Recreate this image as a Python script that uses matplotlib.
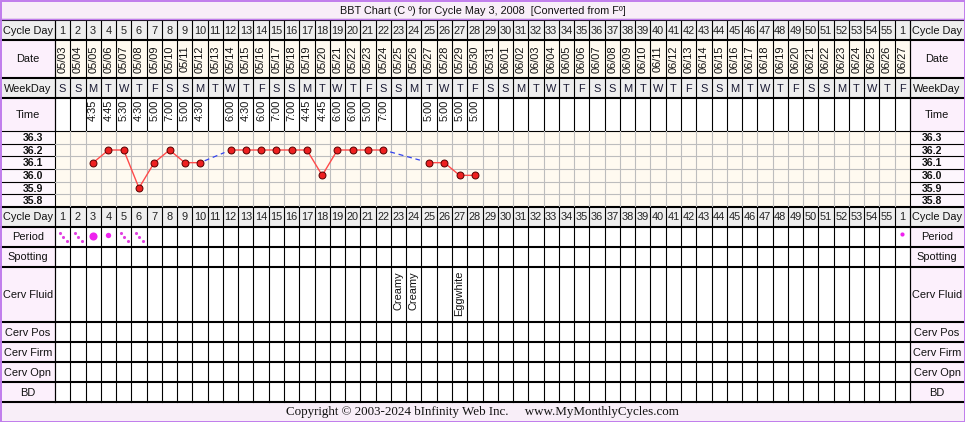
import matplotlib
matplotlib.use("Agg")
import matplotlib.pyplot as plt
import pandas as pd
from matplotlib.patches import Rectangle

# ---- chart data ----
dates = pd.date_range("2008-05-03", "2008-06-27")
cycle_days = [str(d) for d in range(1, 56)] + ["1"]
temp_days = [3, 4, 5, 6, 7, 8, 9, 10, 12, 13, 14, 15, 16, 17, 18, 19, 20, 21, 22, 25, 26, 27, 28]
temps = [36.1, 36.2, 36.2, 35.9, 36.1, 36.2, 36.1, 36.1,
         36.2, 36.2, 36.2, 36.2, 36.2, 36.2, 36.0, 36.2, 36.2, 36.2, 36.2,
         36.1, 36.1, 36.0, 36.0]
times = ["4:35", "4:45", "5:30", "4:30", "5:00", "7:00", "5:00", "4:30",
         "6:00", "4:30", "6:00", "7:00", "7:00", "4:45", "4:45", "6:00", "6:00", "5:00", "7:00",
         "5:00", "5:00", "5:00", "5:00"]
temp_labels = [36.3, 36.2, 36.1, 36.0, 35.9, 35.8]
period_days = [1, 2, 3, 4, 5, 6, 56]
period_flow = ["spot", "spot", "heavy", "medium", "spot", "spot", "light"]
fluid_days = [23, 24, 27]
fluid = ["Creamy", "Creamy", "Eggwhite"]
title = "BBT Chart (C \u00ba) for Cycle May 3, 2008  [Converted from F\u00ba]"
footer = "Copyright \u00a9 2003-2024 bInfinity Web Inc.     www.MyMonthlyCycles.com"

# ---- layout (pixels) ----
W, H = 965, 422
X0, X1 = 55, 910          # day columns area
NCOL = len(dates)
CW = (X1 - X0) / NCOL
rows = {
    "cd1": (20, 40), "date": (40, 78), "wd": (78, 98), "time": (98, 131),
    "temp": (131, 207), "cd2": (207, 227), "Period": (227, 247),
    "Spotting": (247, 267), "Cerv Fluid": (267, 322), "Cerv Pos": (322, 342),
    "Cerv Firm": (342, 362), "Cerv Opn": (362, 382), "BD": (382, 402),
}
FONT = "Liberation Sans"
FS = 7.9
PINK = "#fcf0fc"
GRAY = "#eeeeee"
CREAM = "#fffaf0"
PURPLE = "#c07cec"


def px(xp):
    # pixel x -> column units
    return 0.5 + (xp - X0) / CW


fig = plt.figure(figsize=(W / 100, H / 100), dpi=100)
ax = fig.add_axes([0, 0, 1, 1])
ax.set_xlim(px(0), px(W))
ax.set_ylim(H, 0)
ax.axis("off")

# backgrounds
ax.add_patch(Rectangle((px(0), 0), px(W) - px(0), 20, color="#f8eef8", lw=0))
ax.add_patch(Rectangle((px(0), 402), px(W) - px(0), 20, color="#f8eef8", lw=0))
for key, (y0, y1) in rows.items():
    if key in ("cd1", "wd", "cd2"):
        day_bg, lab_bg = GRAY, GRAY
    elif key == "date":
        day_bg, lab_bg = CREAM, PINK
    elif key == "temp":
        day_bg, lab_bg = CREAM, "#fdf6fd"
    else:
        day_bg, lab_bg = "white", PINK
    ax.add_patch(Rectangle((0.5, y0), NCOL, y1 - y0, color=day_bg, lw=0))
    ax.add_patch(Rectangle((px(1), y0), px(X0) - px(1), y1 - y0, color=lab_bg, lw=0))
    ax.add_patch(Rectangle((px(X1), y0), px(W - 1) - px(X1), y1 - y0, color=lab_bg, lw=0))

# row labels on both sides
side_labels = {"cd1": "Cycle Day", "date": "Date", "wd": "WeekDay", "time": "Time",
               "cd2": "Cycle Day"}
for key, (y0, y1) in rows.items():
    if key == "temp":
        continue
    lab = side_labels.get(key, key)
    for xc in ((1 + X0) / 2, (X1 + W - 1) / 2):
        ax.text(px(xc), (y0 + y1) / 2 + 0.5, lab, ha="center", va="center",
                fontsize=FS, family=FONT, color="#111111")

# temperature labels on both sides
t0, t1 = rows["temp"]
rh = (t1 - t0) / len(temp_labels)
for i, t in enumerate(temp_labels):
    yc = t0 + (i + 0.5) * rh
    for xc in ((1 + X0) / 2 + 5, (X1 + W - 1) / 2 - 5):
        ax.text(px(xc), yc + 0.5, f"{t:.1f}", ha="center", va="center",
                fontsize=FS - 0.3, family=FONT, fontweight="bold", color="#111111")
    if i > 0:
        ax.plot([px(1), px(X0)], [t0 + i * rh] * 2, color="black", lw=0.8)
        ax.plot([px(X1), px(W - 1)], [t0 + i * rh] * 2, color="black", lw=0.8)

# day cells
for i, (d, cd) in enumerate(zip(dates, cycle_days), start=1):
    for key in ("cd1", "cd2"):
        y0, y1 = rows[key]
        ax.text(i, (y0 + y1) / 2 + 0.5, cd, ha="center", va="center",
                fontsize=FS, family=FONT, color="#222222")
    y0, y1 = rows["date"]
    ax.text(i, (y0 + y1) / 2, d.strftime("%m/%d"), ha="center", va="center",
            rotation=90, fontsize=FS, family=FONT, color="#111111")
    y0, y1 = rows["wd"]
    ax.text(i, (y0 + y1) / 2 + 0.5, "MTWTFSS"[d.weekday()], ha="center", va="center",
            fontsize=FS, family=FONT, color="#1a1a33")

y0, y1 = rows["time"]
for d, tm in zip(temp_days, times):
    ax.text(d, y0 + 2, tm, ha="center", va="top", rotation=90,
            fontsize=FS, family=FONT, color="#111111")

y0, y1 = rows["Cerv Fluid"]
for d, f in zip(fluid_days, fluid):
    ax.text(d, y0 + 4, f, ha="center", va="top", rotation=90,
            fontsize=FS, family=FONT, color="#111111")

# period markers
y0, y1 = rows["Period"]
yc = (y0 + y1) / 2
MAG = "#ee22ee"
for d, fl in zip(period_days, period_flow):
    if fl == "spot":
        ax.scatter([d - 3 / CW, d, d + 4 / CW], [yc - 4, yc, yc + 4], s=5,
                   color="#e040e0", lw=0, zorder=5)
    elif fl == "heavy":
        ax.scatter([d], [yc - 1], s=34, color=MAG, lw=0, zorder=5)
    elif fl == "medium":
        ax.scatter([d], [yc - 2.5], s=15, color=MAG, lw=0, zorder=5)
    else:
        ax.scatter([d], [yc - 3], s=9, color=MAG, lw=0, zorder=5)

# grid lines of the table
for key, (y0, y1) in rows.items():
    if key == "temp":
        continue
    for i in range(NCOL + 1):
        ax.plot([0.5 + i, 0.5 + i], [y0, y1], color="black", lw=0.8, zorder=3)
ax.plot([px(X0)] * 2, [20, 402], color="black", lw=0.8, zorder=3)
ax.plot([px(X1)] * 2, [20, 402], color="black", lw=0.8, zorder=3)
for yl in (20, 40, 78, 98, 207, 227, 247, 267, 322, 342, 362, 382, 402):
    ax.plot([px(1), px(W - 1)], [yl, yl], color="black", lw=1.5, zorder=4)
ax.plot([px(1), px(W - 1)], [131, 131], color="black", lw=0.8, zorder=4)

# outer purple frame
ax.add_patch(Rectangle((px(0.5), 0.5), px(W - 0.5) - px(0.5), H - 1, fill=False,
                       ec=PURPLE, lw=1.4, zorder=6))
ax.plot([px(1), px(W - 1)], [19.3, 19.3], color=PURPLE, lw=1.0, zorder=5)

ax.text(px(W / 2), 10.5, title, ha="center", va="center", fontsize=FS - 0.1,
        family=FONT, color="#111111")
ax.text(px(W / 2), 412, footer, ha="center", va="center", fontsize=9.4,
        family="Liberation Serif", color="#111111")

# ---- temperature chart ----
tax = fig.add_axes([X0 / W, (H - t1) / H, (X1 - X0) / W, (t1 - t0) / H])
tax.set_xlim(0.5, NCOL + 0.5)
tax.set_ylim(35.75, 36.35)
tax.set_facecolor("none")
for i in range(1, NCOL):
    tax.axvline(0.5 + i, color="#bdbdbd", lw=0.8, zorder=1)
for i in range(1, len(temp_labels)):
    tax.axhline(35.75 + i * 0.1, color="#bdbdbd", lw=0.8, zorder=1)
for s in tax.spines.values():
    s.set_visible(False)
tax.set_xticks([])
tax.set_yticks([])

# split into runs of consecutive days, bridge gaps with dashed lines
runs = [[0]]
for k in range(1, len(temp_days)):
    if temp_days[k] == temp_days[k - 1] + 1:
        runs[-1].append(k)
    else:
        runs.append([k])
for r in runs:
    tax.plot([temp_days[k] for k in r], [temps[k] for k in r], color="#ff4a4a",
             lw=1.0, zorder=3)
for a, b in zip(runs[:-1], runs[1:]):
    ka, kb = a[-1], b[0]
    xa, xb = temp_days[ka], temp_days[kb]
    ya, yb = temps[ka], temps[kb]
    f0, f1 = 0.15, 0.8
    tax.plot([xa + f0 * (xb - xa), xa + f1 * (xb - xa)],
             [ya + f0 * (yb - ya), ya + f1 * (yb - ya)],
             color="#3344ee", lw=0.9, ls=(0, (4, 3)), zorder=3)
tax.plot(temp_days, temps, ls="none", marker="o", ms=5.0, mfc="#ee2020",
         mec="#550000", mew=0.7, zorder=4)

fig.savefig("out.png", dpi=100)
